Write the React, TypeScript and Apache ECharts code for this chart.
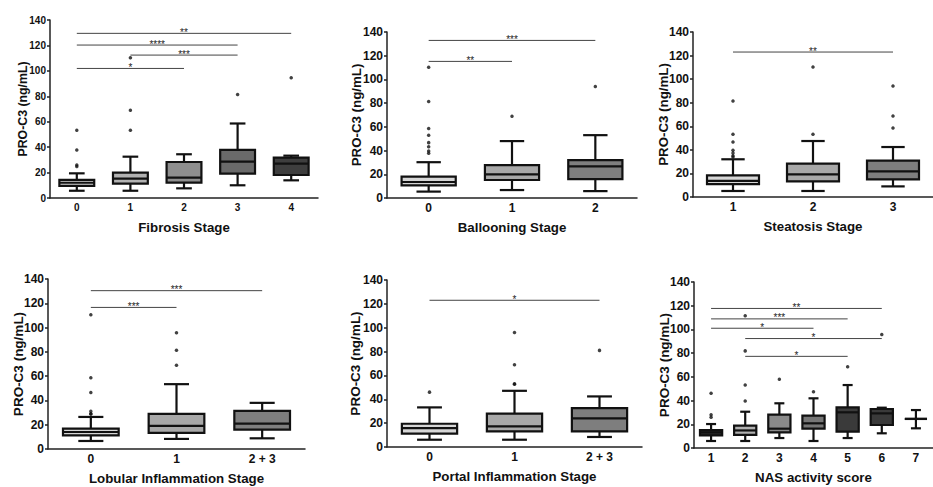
import React, { useEffect, useRef } from "react";
import * as echarts from "echarts";

const FONT = '"Liberation Sans", Arial, sans-serif';

// ---------- Fibrosis ----------
const fibrosisCats = ["0", "1", "2", "3", "4"];
// [category, min, Q1, median, Q3, max]
const fibrosisBoxes = [
  [0, 5.7, 9.6, 12.0, 14.2, 19.4],
  [1, 5.7, 11.3, 15.2, 19.9, 32.5],
  [2, 7.6, 12.1, 16.0, 28.3, 34.4],
  [3, 10.0, 19.1, 28.6, 37.8, 58.6],
  [4, 13.9, 18.1, 27.0, 31.7, 33.3],
];
const fibrosisOutliers = [
  [0, 53.3], [0, 37.8], [0, 26.0], [0, 24.7],
  [1, 110.3], [1, 69.0], [1, 53.3],
  [3, 81.4], [4, 94.6],
];
const fibrosisSigLines = [
  [0, 4, 129.5], [0, 3, 120.3], [1, 3, 112.4], [0, 2, 101.9],
];
const fibrosisSigLabels = ["**", "****", "***", "*"];

// ---------- Ballooning ----------
const balloonCats = ["0", "1", "2"];
const balloonBoxes = [
  [0, 5.4, 10.6, 13.5, 18.0, 30.2],
  [1, 6.7, 15.2, 20.0, 27.8, 48.0],
  [2, 5.8, 16.0, 26.6, 32.0, 53.0],
];
const balloonOutliers = [
  [0, 110.3], [0, 81.3], [0, 58.7], [0, 53.0], [0, 46.7], [0, 43.3], [0, 39.6], [0, 37.7],
  [1, 68.9], [2, 94.0],
];
const balloonSigLines = [[0, 2, 132.9], [0, 1, 115.2]];
const balloonSigLabels = ["***", "**"];

// ---------- Steatosis ----------
const steatCats = ["1", "2", "3"];
const steatBoxes = [
  [0, 5.1, 11.0, 13.6, 18.4, 32.0],
  [1, 5.1, 13.3, 19.2, 28.3, 47.5],
  [2, 9.0, 15.0, 21.8, 30.8, 42.4],
];
const steatOutliers = [
  [0, 81.4], [0, 53.2], [0, 46.7], [0, 39.6], [0, 37.3], [0, 35.0], [0, 34.0],
  [1, 110.3], [1, 53.2],
  [2, 94.2], [2, 68.7], [2, 58.5],
];
const steatSigLines = [[0, 2, 123.0]];
const steatSigLabels = ["**"];

// ---------- Lobular inflammation ----------
const lobularCats = ["0", "1", "2 + 3"];
const lobularBoxes = [
  [0, 6.6, 11.3, 14.0, 16.8, 26.4],
  [1, 8.3, 13.2, 19.0, 28.9, 53.4],
  [2, 8.8, 16.0, 20.9, 31.4, 38.0],
];
const lobularOutliers = [
  [0, 110.5], [0, 58.6], [0, 46.5], [0, 31.0], [0, 29.0], [0, 28.8],
  [1, 95.7], [1, 81.4], [1, 69.0],
];
const lobularSigLines = [[0, 2, 130.4], [0, 1, 116.6]];
const lobularSigLabels = ["***", "***"];

// ---------- Portal inflammation ----------
const portalCats = ["0", "1", "2 + 3"];
const portalBoxes = [
  [0, 6.1, 11.2, 15.9, 19.5, 33.2],
  [1, 6.1, 13.1, 17.3, 27.9, 47.1],
  [2, 8.4, 13.1, 24.0, 32.6, 42.4],
];
const portalOutliers = [
  [0, 46.0],
  [1, 95.9], [1, 68.9], [1, 53.0], [1, 52.6],
  [2, 81.0],
];
const portalSigLines = [[0, 2, 123.0]];
const portalSigLabels = ["*"];

// ---------- NAS activity score ----------
const nasCats = ["1", "2", "3", "4", "5", "6", "7"];
const nasBoxes = [
  [0, 5.9, 10.7, 13.2, 15.2, 20.2],
  [1, 5.9, 11.0, 14.8, 18.8, 30.6],
  [2, 8.4, 13.2, 16.3, 28.1, 37.7],
  [3, 5.9, 16.3, 20.8, 27.3, 41.9],
  [4, 8.4, 13.8, 30.1, 34.3, 53.1],
  [5, 12.4, 19.4, 29.2, 32.9, 34.0],
  [6, 16.6, 24.5, 24.5, 24.5, 32.0],
];
const nasOutliers = [
  [0, 46.1], [0, 28.1], [0, 25.9],
  [1, 111.5], [1, 81.9], [1, 53.1], [1, 39.6],
  [2, 57.9], [3, 47.5], [4, 68.6], [5, 95.7],
];
const nasSigLines = [
  [0, 5, 117.7], [0, 4, 108.9], [0, 3, 101.0], [1, 5, 92.3], [1, 4, 77.3],
];
const nasSigLabels = ["**", "***", "*", "*", "*"];

// ---------- styles ----------
const fibrosisFills = ["#d6d6d6", "#b2b2b2", "#8e8e8e", "#6a6a6a", "#3e3e3e"];
const threeFills = ["#d6d6d6", "#a8a8a8", "#7e7e7e"];
const nasFills = ["#2e2e2e", "#b0b0b0", "#8a8a8a", "#767676", "#3a3a3a", "#3a3a3a", "#3a3a3a"];

const yName = "PRO-C3 (ng/mL)";

const panels = [
  { cats: fibrosisCats, boxes: fibrosisBoxes, outliers: fibrosisOutliers, sig: fibrosisSigLines, sigLabels: fibrosisSigLabels, fills: fibrosisFills, xName: "Fibrosis Stage",
    grid: { left: 50, top: 20, width: 268, height: 178 }, tickFont: 10, yNameFont: 12.3, yGap: 21 },
  { cats: balloonCats, boxes: balloonBoxes, outliers: balloonOutliers, sig: balloonSigLines, sigLabels: balloonSigLabels, fills: threeFills, xName: "Ballooning Stage",
    grid: { left: 387, top: 32, width: 250, height: 166 }, tickFont: 12, yNameFont: 13.3, yGap: 24 },
  { cats: steatCats, boxes: steatBoxes, outliers: steatOutliers, sig: steatSigLines, sigLabels: steatSigLabels, fills: threeFills, xName: "Steatosis Stage",
    grid: { left: 693, top: 32, width: 250, height: 165 }, tickFont: 12, yNameFont: 13.3, yGap: 23 },
  { cats: lobularCats, boxes: lobularBoxes, outliers: lobularOutliers, sig: lobularSigLines, sigLabels: lobularSigLabels, fills: threeFills, xName: "Lobular Inflammation Stage",
    grid: { left: 48, top: 279, width: 257, height: 170 }, tickFont: 12, yNameFont: 13.5, yGap: 23 },
  { cats: portalCats, boxes: portalBoxes, outliers: portalOutliers, sig: portalSigLines, sigLabels: portalSigLabels, fills: threeFills, xName: "Portal Inflammation Stage",
    grid: { left: 387, top: 280, width: 255, height: 167 }, tickFont: 12, yNameFont: 13.5, yGap: 25 },
  { cats: nasCats, boxes: nasBoxes, outliers: nasOutliers, sig: nasSigLines, sigLabels: nasSigLabels, fills: nasFills, xName: "NAS activity score",
    grid: { left: 694, top: 282, width: 251, height: 166 }, tickFont: 12, yNameFont: 13.5, yGap: 23 },
];

const makeBoxRender = (fills: string[]) => (params: any, api: any) => {
  const ci = api.value(0);
  const pMin = api.coord([ci, api.value(1)]);
  const pQ1 = api.coord([ci, api.value(2)]);
  const pMed = api.coord([ci, api.value(3)]);
  const pQ3 = api.coord([ci, api.value(4)]);
  const pMax = api.coord([ci, api.value(5)]);
  const band = api.size([1, 0])[0];
  const bw = band * 0.65;
  const cap = bw * 0.45;
  const cx = pMin[0];
  const stroke = "#111";
  const lw = 2.2;
  const ls = { stroke, lineWidth: lw };
  return {
    type: "group",
    children: [
      { type: "line", shape: { x1: cx, y1: pMax[1], x2: cx, y2: pQ3[1] }, style: ls },
      { type: "line", shape: { x1: cx, y1: pMin[1], x2: cx, y2: pQ1[1] }, style: ls },
      { type: "line", shape: { x1: cx - cap / 2, y1: pMax[1], x2: cx + cap / 2, y2: pMax[1] }, style: ls },
      { type: "line", shape: { x1: cx - cap / 2, y1: pMin[1], x2: cx + cap / 2, y2: pMin[1] }, style: ls },
      {
        type: "rect",
        shape: { x: cx - bw / 2, y: pQ3[1], width: bw, height: pQ1[1] - pQ3[1] },
        style: { fill: fills[params.dataIndex], stroke, lineWidth: lw },
      },
      { type: "line", shape: { x1: cx - bw / 2, y1: pMed[1], x2: cx + bw / 2, y2: pMed[1] }, style: ls },
    ],
  };
};

const makeSigRender = (labels: string[]) => (params: any, api: any) => {
  const a = api.coord([api.value(0), api.value(2)]);
  const b = api.coord([api.value(1), api.value(2)]);
  return {
    type: "group",
    children: [
      { type: "line", shape: { x1: a[0], y1: a[1], x2: b[0], y2: b[1] }, style: { stroke: "#444", lineWidth: 1 } },
      {
        type: "text",
        style: {
          text: labels[params.dataIndex],
          x: (a[0] + b[0]) / 2,
          y: a[1] + 4,
          align: "center",
          verticalAlign: "bottom",
          fill: "#222",
          fontSize: 10,
          fontFamily: FONT,
        },
      },
    ],
  };
};

function buildOption() {
  const grid: any[] = [];
  const xAxis: any[] = [];
  const yAxis: any[] = [];
  const series: any[] = [];
  panels.forEach((p, i) => {
    grid.push({ ...p.grid });
    xAxis.push({
      type: "category",
      gridIndex: i,
      data: p.cats,
      boundaryGap: true,
      name: p.xName,
      nameLocation: "middle",
      nameGap: 23,
      nameMoveOverlap: false,
      nameTextStyle: { fontSize: 13.3, fontWeight: "bold", color: "#111", fontFamily: FONT },
      axisLine: { show: true, lineStyle: { color: "#222", width: 1.5 } },
      axisTick: { show: false },
      axisLabel: { fontSize: p.tickFont, fontWeight: "bold", color: "#111", fontFamily: FONT, margin: 4 },
      splitLine: { show: false },
    });
    yAxis.push({
      type: "value",
      gridIndex: i,
      min: 0,
      max: 140,
      interval: 20,
      name: yName,
      nameLocation: "middle",
      nameGap: p.yGap,
      nameMoveOverlap: false,
      nameTextStyle: { fontSize: p.yNameFont, fontWeight: "bold", color: "#111", fontFamily: FONT },
      axisLine: { show: true, lineStyle: { color: "#222", width: 1.5 } },
      axisTick: { show: true, length: 3, lineStyle: { color: "#222", width: 1.5 } },
      axisLabel: { fontSize: p.tickFont, fontWeight: "bold", color: "#111", fontFamily: FONT, margin: 4 },
      splitLine: { show: false },
    });
    series.push({
      type: "custom",
      xAxisIndex: i,
      yAxisIndex: i,
      data: p.boxes,
      encode: { x: 0, y: [1, 2, 3, 4, 5] },
      itemStyle: { color: "#111" },
      renderItem: makeBoxRender(p.fills),
      z: 2,
    });
    series.push({
      type: "scatter",
      xAxisIndex: i,
      yAxisIndex: i,
      data: p.outliers,
      symbol: "circle",
      symbolSize: 3.5,
      itemStyle: { color: "#111" },
      z: 3,
    });
    series.push({
      type: "custom",
      xAxisIndex: i,
      yAxisIndex: i,
      data: p.sig,
      encode: { x: [0, 1], y: 2 },
      itemStyle: { color: "#222" },
      renderItem: makeSigRender(p.sigLabels),
      z: 4,
    });
  });
  return {
    animation: false,
    backgroundColor: "#ffffff",
    textStyle: { fontFamily: FONT },
    grid,
    xAxis,
    yAxis,
    series,
  };
}

export default function App() {
  const ref = useRef<HTMLDivElement>(null);
  useEffect(() => {
    if (!ref.current) return;
    const chart = echarts.init(ref.current, undefined, { renderer: "svg" });
    chart.setOption(buildOption() as any);
    return () => chart.dispose();
  }, []);
  return (
    <div
      ref={ref}
      style={{ position: "absolute", left: 0, top: 0, width: 933, height: 487, background: "#fff" }}
    />
  );
}
